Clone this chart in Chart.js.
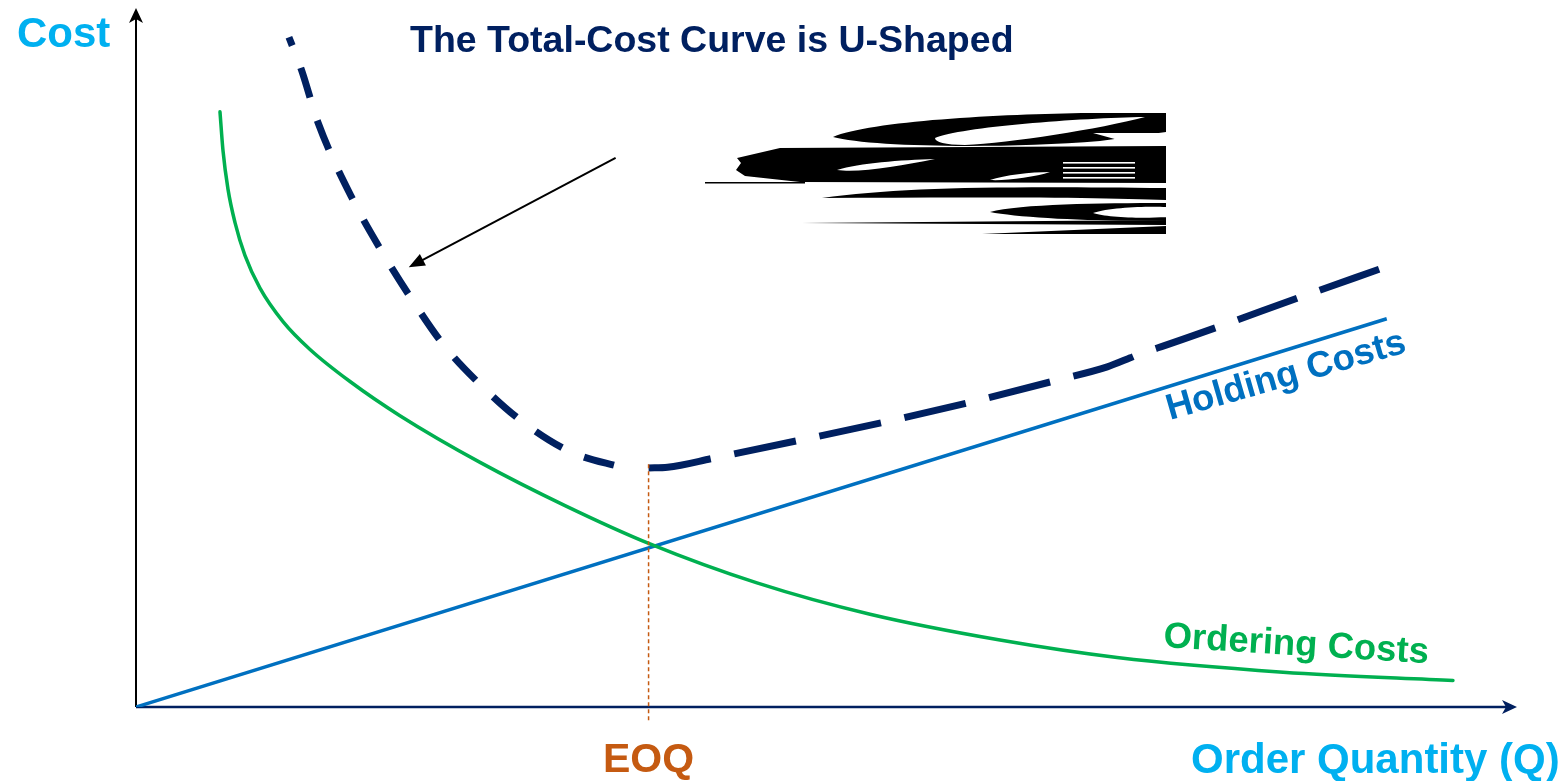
<!DOCTYPE html>
<html>
<head>
<meta charset="utf-8">
<script src="https://cdn.jsdelivr.net/npm/chart.js@4.4.1/dist/chart.umd.min.js"></script>
<style>
  html, body { margin: 0; padding: 0; background: #ffffff; }
  #wrap { width: 1568px; height: 781px; position: relative; }
</style>
</head>
<body>
<div id="wrap"><canvas id="eoq" width="1568" height="781"></canvas></div>
<script>
// Order quantity (x) and cost (y) on a 0–100 schematic scale
const holdingQ = [0, 90.7];
const holdingCost = [0, 55.7];

const orderingQ = [6.09, 6.31, 6.67, 7.18, 7.90, 8.99, 10.66, 12.62, 15.52, 19.14, 24.95, 31.11, 37.27, 45.03, 53.23, 62.65, 71.14, 83.18, 95.50];
const orderingCost = [85.4, 79.8, 74.3, 69.5, 64.8, 60.1, 55.3, 51.3, 46.7, 41.8, 35.1, 28.9, 23.4, 17.8, 13.3, 9.6, 7.1, 5.0, 3.8];

// total cost, falling branch (left of EOQ) and rising branch (right of EOQ)
const totalLeftQ = [11.09, 12.0, 13.19, 15.80, 17.75, 19.93, 22.32, 25.0, 28.04, 31.52, 35.36];
const totalLeftCost = [96.1, 91.4, 83.9, 72.5, 65.6, 58.7, 51.9, 46.2, 40.9, 36.6, 34.3];
const totalRightQ = [37.17, 38.55, 41.88, 48.19, 54.35, 60.65, 66.81, 70.43, 72.10, 72.97, 74.06, 78.41, 84.42, 90.43];
const totalRightCost = [34.3, 34.4, 35.7, 38.3, 40.9, 43.8, 46.9, 48.8, 50.1, 50.8, 51.5, 54.5, 58.8, 63.0];

// economic order quantity marker
const eoqQ = [37.17, 37.17];
const eoqCost = [-1.9, 35.0];

// pointer from the caption towards the total-cost curve
const pointerQ = [34.78, 19.78];
const pointerCost = [78.8, 63.1];

const toPoints = (xs, ys) => xs.map((x, i) => ({ x: x, y: ys[i] }));

const FONT = '"Liberation Sans", Arial, sans-serif';

function arrowHead(ctx, tipX, tipY, angle, len, half, notch) {
  ctx.save();
  ctx.translate(tipX, tipY);
  ctx.rotate(angle);
  ctx.beginPath();
  ctx.moveTo(0, 0);
  ctx.lineTo(-len, -half);
  ctx.lineTo(-len + notch, 0);
  ctx.lineTo(-len, half);
  ctx.closePath();
  ctx.fill();
  ctx.restore();
}

function drawScribble(ctx) {
  ctx.save();
  ctx.fillStyle = '#000000';
  // upper hollow lens
  ctx.beginPath();
  ctx.moveTo(833, 137);
  ctx.bezierCurveTo(870, 121, 1000, 114, 1090, 113);
  ctx.lineTo(1166, 113);
  ctx.lineTo(1166, 132);
  ctx.lineTo(1100, 141);
  ctx.bezierCurveTo(1000, 149, 870, 147, 833, 137);
  ctx.closePath();
  ctx.moveTo(935, 138);
  ctx.bezierCurveTo(960, 127, 1080, 118, 1145, 117);
  ctx.bezierCurveTo(1100, 129, 1010, 143, 965, 145);
  ctx.bezierCurveTo(945, 145, 935, 142, 935, 138);
  ctx.closePath();
  ctx.fill('evenodd');

  // dense middle band
  ctx.beginPath();
  ctx.moveTo(736, 170);
  ctx.lineTo(741, 163);
  ctx.lineTo(737, 158);
  ctx.lineTo(780, 148);
  ctx.lineTo(1166, 146);
  ctx.lineTo(1166, 183);
  ctx.lineTo(800, 182);
  ctx.lineTo(745, 176);
  ctx.closePath();
  ctx.moveTo(837, 170);
  ctx.bezierCurveTo(860, 163, 900, 160, 935, 159);
  ctx.bezierCurveTo(900, 166, 860, 173, 837, 170);
  ctx.closePath();
  ctx.moveTo(990, 180);
  ctx.bezierCurveTo(1005, 175, 1030, 172, 1050, 172);
  ctx.bezierCurveTo(1035, 177, 1005, 181, 990, 180);
  ctx.closePath();
  ctx.fill('evenodd');
  ctx.fillRect(705, 182, 100, 1.5);
  ctx.fillStyle = '#ffffff';
  [162, 167, 172, 177].forEach(y => ctx.fillRect(1063, y, 72, 1.6));
  ctx.beginPath();
  ctx.moveTo(1093, 133);
  ctx.lineTo(1166, 133);
  ctx.lineTo(1166, 146);
  ctx.lineTo(1140, 146);
  ctx.closePath();
  ctx.fill();
  ctx.fillStyle = '#000000';

  // lower streaks
  ctx.beginPath();
  ctx.moveTo(822, 198);
  ctx.bezierCurveTo(900, 187, 1000, 186, 1166, 188);
  ctx.lineTo(1166, 200);
  ctx.bezierCurveTo(1100, 197, 950, 197, 822, 198);
  ctx.closePath();
  ctx.fill();

  ctx.beginPath();
  ctx.moveTo(990, 212);
  ctx.bezierCurveTo(1020, 204, 1100, 203, 1166, 203);
  ctx.lineTo(1166, 220);
  ctx.bezierCurveTo(1100, 222, 1020, 218, 990, 212);
  ctx.closePath();
  ctx.moveTo(1093, 213);
  ctx.bezierCurveTo(1110, 207, 1150, 206, 1166, 207);
  ctx.lineTo(1166, 217);
  ctx.bezierCurveTo(1140, 219, 1105, 217, 1093, 213);
  ctx.closePath();
  ctx.fill('evenodd');

  ctx.beginPath();
  ctx.moveTo(802, 223);
  ctx.lineTo(1166, 220);
  ctx.lineTo(1166, 225);
  ctx.closePath();
  ctx.fill();

  ctx.beginPath();
  ctx.moveTo(982, 234);
  ctx.lineTo(1166, 226);
  ctx.lineTo(1166, 234);
  ctx.closePath();
  ctx.fill();
  ctx.restore();
}

const decorations = {
  id: 'eoqDecorations',
  beforeDatasetsDraw(chart) {
    const ctx = chart.ctx;
    const xs = chart.scales.x, ys = chart.scales.y;
    const ox = xs.getPixelForValue(0), oy = ys.getPixelForValue(0);
    const area = chart.chartArea;
    ctx.save();
    // cost axis
    ctx.strokeStyle = '#000000';
    ctx.fillStyle = '#000000';
    ctx.lineWidth = 2;
    ctx.beginPath();
    ctx.moveTo(ox, oy);
    ctx.lineTo(ox, area.top + 6);
    ctx.stroke();
    arrowHead(ctx, ox, area.top - 2, -Math.PI / 2, 15, 7, 4);
    // quantity axis
    ctx.strokeStyle = '#002060';
    ctx.fillStyle = '#002060';
    ctx.lineWidth = 2.5;
    ctx.beginPath();
    ctx.moveTo(ox, oy);
    ctx.lineTo(area.right - 6, oy);
    ctx.stroke();
    arrowHead(ctx, area.right + 2, oy, 0, 15, 7, 4);
    ctx.restore();
  },
  afterDatasetsDraw(chart) {
    const ctx = chart.ctx;
    const xs = chart.scales.x, ys = chart.scales.y;
    ctx.save();

    // pointer arrow
    const x1 = xs.getPixelForValue(pointerQ[0]), y1 = ys.getPixelForValue(pointerCost[0]);
    const x2 = xs.getPixelForValue(pointerQ[1]), y2 = ys.getPixelForValue(pointerCost[1]);
    const ang = Math.atan2(y2 - y1, x2 - x1);
    ctx.strokeStyle = '#000000';
    ctx.fillStyle = '#000000';
    ctx.lineWidth = 2;
    ctx.beginPath();
    ctx.moveTo(x1, y1);
    ctx.lineTo(x2 - 10 * Math.cos(ang), y2 - 10 * Math.sin(ang));
    ctx.stroke();
    arrowHead(ctx, x2, y2, ang, 16, 6.5, 0);

    drawScribble(ctx);

    ctx.textBaseline = 'alphabetic';
    ctx.textAlign = 'left';

    ctx.fillStyle = '#00b0f0';
    ctx.font = 'bold 42px ' + FONT;
    ctx.fillText('Cost', 17, 47);
    ctx.fillText('Order Quantity (Q)', 1191, 773);

    ctx.fillStyle = '#002060';
    ctx.font = 'bold 37.5px ' + FONT;
    ctx.fillText('The Total-Cost Curve is U-Shaped', 410, 52);

    ctx.fillStyle = '#c55a11';
    ctx.font = 'bold 41px ' + FONT;
    ctx.textAlign = 'center';
    ctx.fillText('EOQ', xs.getPixelForValue(eoqQ[0]), 772);
    ctx.textAlign = 'left';

    ctx.save();
    ctx.translate(1170, 420);
    ctx.rotate(-16 * Math.PI / 180);
    ctx.fillStyle = '#0070c0';
    ctx.font = 'bold 36.5px ' + FONT;
    ctx.fillText('Holding Costs', 0, 0);
    ctx.restore();

    ctx.save();
    ctx.translate(1163, 647);
    ctx.rotate(3.5 * Math.PI / 180);
    ctx.fillStyle = '#00b050';
    ctx.font = 'bold 36.5px ' + FONT;
    ctx.fillText('Ordering Costs', 0, 0);
    ctx.restore();

    ctx.restore();
  }
};

new Chart(document.getElementById('eoq'), {
  type: 'line',
  data: {
    datasets: [
      {
        label: 'EOQ',
        data: toPoints(eoqQ, eoqCost),
        borderColor: '#c55a11',
        borderWidth: 1.5,
        borderDash: [4, 3],
        pointRadius: 0,
        tension: 0,
        clip: false
      },
      {
        label: 'Ordering Costs',
        data: toPoints(orderingQ, orderingCost),
        borderColor: '#00b050',
        borderWidth: 3.5,
        pointRadius: 0,
        cubicInterpolationMode: 'monotone',
        borderCapStyle: 'round'
      },
      {
        label: 'Holding Costs',
        data: toPoints(holdingQ, holdingCost),
        borderColor: '#0070c0',
        borderWidth: 3.5,
        pointRadius: 0,
        tension: 0
      },
      {
        label: 'Total Cost',
        data: toPoints(totalLeftQ, totalLeftCost),
        borderColor: '#002060',
        borderWidth: 7,
        borderDash: [31, 24],
        borderDashOffset: 22,
        borderCapStyle: 'butt',
        pointRadius: 0,
        cubicInterpolationMode: 'monotone'
      },
      {
        label: 'Total Cost (rising)',
        data: toPoints(totalRightQ, totalRightCost),
        borderColor: '#002060',
        borderWidth: 7,
        borderDash: [63, 24],
        borderCapStyle: 'butt',
        pointRadius: 0,
        cubicInterpolationMode: 'monotone'
      }
    ]
  },
  options: {
    responsive: false,
    devicePixelRatio: 1,
    animation: false,
    events: [],
    layout: { padding: { left: 136, right: 53, top: 10, bottom: 74 } },
    scales: {
      x: { type: 'linear', min: 0, max: 100, display: false },
      y: { type: 'linear', min: 0, max: 100, display: false }
    },
    plugins: {
      legend: { display: false },
      tooltip: { enabled: false },
      title: { display: false }
    }
  },
  plugins: [decorations]
});
</script>
</body>
</html>
